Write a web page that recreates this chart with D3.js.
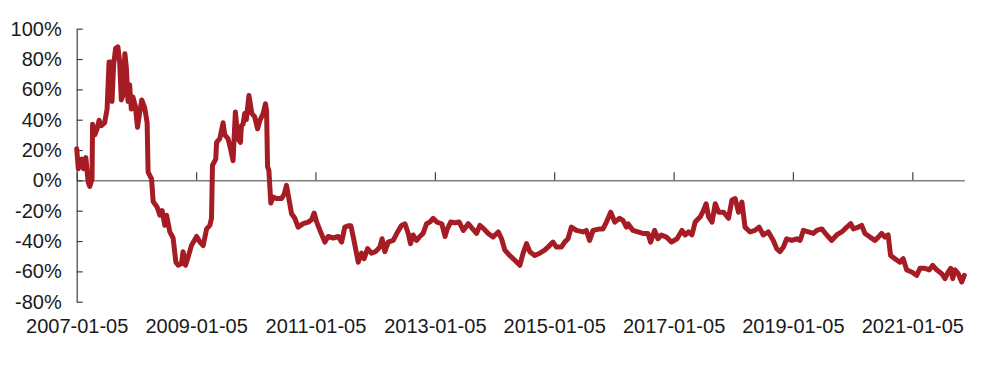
<!DOCTYPE html>
<html>
<head>
<meta charset="utf-8">
<script src="https://cdn.jsdelivr.net/npm/d3@7"></script>
<style>
  body { margin: 0; background: #fff; }
  svg text { font-family: "Liberation Sans", Arial, sans-serif; fill: #1a1a1a; }
</style>
</head>
<body>
<svg id="chart"></svg>
<script>
// weekly series (date, % value)
var dates = [
  "2007-01-05","2007-01-15","2007-02-05","2007-02-15","2007-03-02","2007-03-16","2007-03-26","2007-04-09","2007-04-12","2007-04-26",
  "2007-05-10","2007-05-22","2007-06-05","2007-06-25","2007-07-10","2007-07-22","2007-08-05","2007-08-09","2007-08-19","2007-08-31",
  "2007-09-14","2007-09-25","2007-10-05","2007-10-15","2007-10-27","2007-11-05","2007-11-15","2007-11-25","2007-12-05","2007-12-15",
  "2007-12-30","2008-01-12","2008-01-26","2008-02-07","2008-02-25","2008-03-11","2008-03-17","2008-04-07","2008-04-17","2008-05-11",
  "2008-05-28","2008-06-11","2008-06-27","2008-07-08","2008-07-28","2008-08-17","2008-09-03","2008-09-17","2008-10-07","2008-10-17",
  "2008-11-01","2008-11-17","2008-12-07","2009-01-08","2009-01-28","2009-02-17","2009-03-10","2009-03-30","2009-04-09","2009-04-15",
  "2009-05-05","2009-05-10","2009-05-30","2009-06-19","2009-06-29","2009-07-19","2009-08-03","2009-08-19","2009-09-02","2009-09-18",
  "2009-10-03","2009-10-09","2009-10-19","2009-10-29","2009-11-08","2009-11-24","2009-12-12","2009-12-29","2010-01-16","2010-01-30",
  "2010-02-19","2010-03-05","2010-03-12","2010-03-18","2010-03-26","2010-04-07","2010-04-21","2010-05-12","2010-06-12","2010-06-28",
  "2010-07-12","2010-07-28","2010-08-12","2010-09-01","2010-09-21","2010-10-22","2010-11-22","2010-12-12","2010-12-28","2011-01-13",
  "2011-02-02","2011-03-04","2011-03-24","2011-04-24","2011-05-25","2011-06-14","2011-07-04","2011-07-24","2011-08-10","2011-08-24",
  "2011-09-04","2011-09-24","2011-10-14","2011-10-30","2011-11-20","2011-12-14","2012-01-08","2012-02-03","2012-02-17","2012-03-05",
  "2012-03-25","2012-04-25","2012-05-22","2012-06-15","2012-07-06","2012-07-26","2012-08-09","2012-08-25","2012-09-15","2012-10-05",
  "2012-10-25","2012-11-15","2012-12-05","2012-12-25","2013-01-17","2013-02-16","2013-03-08","2013-03-22","2013-04-12","2013-05-08",
  "2013-06-03","2013-06-28","2013-07-28","2013-08-24","2013-09-17","2013-10-07","2013-11-01","2013-11-27","2013-12-27","2014-01-28",
  "2014-02-17","2014-03-09","2014-04-08","2014-05-09","2014-06-09","2014-06-29","2014-07-20","2014-08-09","2014-09-08","2014-10-09",
  "2014-11-08","2014-11-28","2014-12-29","2015-01-19","2015-02-18","2015-03-10","2015-03-31","2015-04-20","2015-05-21","2015-07-01",
  "2015-07-21","2015-08-10","2015-08-31","2015-10-11","2015-10-31","2015-11-21","2015-12-17","2016-01-11","2016-02-10","2016-03-01",
  "2016-03-22","2016-04-01","2016-05-01","2016-06-01","2016-07-01","2016-08-01","2016-08-17","2016-09-11","2016-10-01","2016-10-22",
  "2016-11-22","2016-12-22","2017-01-26","2017-02-25","2017-03-17","2017-04-06","2017-04-27","2017-05-17","2017-06-17","2017-07-07",
  "2017-07-23","2017-08-07","2017-08-28","2017-09-17","2017-10-07","2017-11-07","2017-12-07","2017-12-28","2018-01-17","2018-02-06",
  "2018-02-27","2018-03-18","2018-04-18","2018-05-18","2018-06-12","2018-07-08","2018-08-08","2018-09-07","2018-09-28","2018-10-18",
  "2018-11-08","2018-11-28","2018-12-29","2019-01-29","2019-02-18","2019-03-10","2019-04-10","2019-05-10","2019-05-31","2019-07-01",
  "2019-07-31","2019-08-31","2019-09-30","2019-10-31","2019-12-01","2019-12-25","2020-01-10","2020-02-10","2020-03-01","2020-03-21",
  "2020-04-21","2020-05-21","2020-06-11","2020-07-01","2020-07-21","2020-08-10","2020-08-25","2020-09-20","2020-10-21","2020-11-10",
  "2020-12-01","2021-01-01","2021-02-01","2021-02-21","2021-03-23","2021-04-19","2021-05-10","2021-06-03","2021-07-04","2021-07-24",
  "2021-08-13","2021-08-28","2021-09-09","2021-09-23","2021-10-13","2021-11-03","2021-11-19"
];
var values = [
  20.9, 7.7, 14, 7.7, 15, -1, -4, 1, 37, 30,
  34, 39.6, 36, 38, 47, 78, 78, 52, 76, 87,
  88, 78, 53, 56, 83.5, 74, 52, 63, 47, 55,
  49, 35, 45, 53, 48, 38, 5.5, 1, -14, -17.6,
  -23, -20, -29.7, -23, -34, -38, -54, -56, -55, -47,
  -56, -50.5, -43, -37, -40.7, -43, -32, -29.7, -25, 10,
  14, 25, 27.6, 38, 30, 27.5, 21, 13, 45, 27.5,
  25, 36, 37, 44, 40, 56, 44, 42, 34, 39.6,
  44, 50.5, 46, 9, 6.6, -15, -11, -12, -12, -9,
  -3.3, -13, -22, -25, -30.8, -28.5, -27.5, -26, -21.5, -27.5,
  -33, -40.7, -37, -38, -37, -40.7, -30.8, -30, -30, -37,
  -43, -54, -48, -51.6, -45, -48, -47, -44, -38.5, -47,
  -40.7, -39.6, -34, -29.7, -28.6, -35, -41.7, -36, -39.6, -37,
  -35, -28.6, -27.5, -25, -27.5, -28.6, -37, -32, -27.5, -28,
  -27.5, -33, -28.6, -32, -35, -29.7, -32, -35, -37.4, -34,
  -38.5, -46, -49.5, -52.7, -56, -48, -41.7, -47, -49.5, -48,
  -46, -44, -40.7, -44, -44, -40.7, -38.5, -30.8, -33, -34,
  -33, -39.6, -33, -32, -32, -27.5, -21, -27.5, -25, -26.4,
  -30.8, -28.6, -33, -34, -35, -35, -40.7, -33, -38.5, -36,
  -37.4, -40.7, -38.5, -33, -36, -34, -36, -27.5, -24, -19.8,
  -15.4, -24, -27.5, -15.4, -21, -21, -25, -13, -12, -21,
  -14.3, -30.8, -34, -33, -30.8, -36, -34, -39.6, -45, -47,
  -44, -38.5, -39.6, -38.5, -39.6, -33, -34, -35, -33, -32,
  -36, -39.6, -36, -34, -30.8, -28.6, -32, -30.8, -29.7, -35,
  -37.4, -39.6, -37.4, -35, -37.4, -36, -49.5, -51.6, -54, -51.6,
  -59, -60.4, -62.6, -58, -58, -59, -56, -59, -61.5, -64.8,
  -60.4, -58, -64.8, -59, -61.5, -67, -62.6
];
var xTickLabels = ["2007-01-05","2009-01-05","2011-01-05","2013-01-05","2015-01-05","2017-01-05","2019-01-05","2021-01-05"];
var yTicks = [100, 80, 60, 40, 20, 0, -20, -40, -60, -80];

var width = 990, height = 370;
var margin = { top: 28.7, right: 25.7, bottom: 68.3, left: 76.7 };

var parse = d3.timeParse("%Y-%m-%d");
var data = dates.map((d, i) => ({ date: parse(d), value: values[i] }));

var svg = d3.select("#chart")
    .attr("width", width)
    .attr("height", height);

var x = d3.scaleTime()
    .domain([parse(dates[0]), parse(dates[dates.length - 1])])
    .range([margin.left, width - margin.right]);

var y = d3.scaleLinear()
    .domain([-80, 100])
    .range([height - margin.bottom, margin.top]);

var tickDates = xTickLabels.map(parse);

// zero line with upward ticks
var zeroAxis = svg.append("g")
    .attr("transform", "translate(0," + y(0) + ")")
    .call(d3.axisBottom(x)
      .tickValues(tickDates)
      .tickSizeInner(-8)
      .tickSizeOuter(0)
      .tickFormat(""));
zeroAxis.select(".domain").attr("stroke", "#7f7f7f").attr("stroke-width", 1.5);
zeroAxis.selectAll(".tick line").attr("stroke", "#404040").attr("stroke-width", 1.2);

// date labels along the bottom
var labelAxis = svg.append("g")
    .attr("transform", "translate(0," + y(-80) + ")")
    .call(d3.axisBottom(x)
      .tickValues(tickDates)
      .tickSize(0)
      .tickPadding(17)
      .tickFormat(d3.timeFormat("%Y-%m-%d")));
labelAxis.select(".domain").remove();
labelAxis.selectAll("text").attr("font-size", "20px").attr("font-family", null);

// left axis, ticks pointing inward
var yAxis = svg.append("g")
    .attr("transform", "translate(" + margin.left + ",0)")
    .call(d3.axisLeft(y)
      .tickValues(yTicks)
      .tickSizeInner(-6)
      .tickSizeOuter(0)
      .tickPadding(15)
      .tickFormat(d => d + "%"));
yAxis.select(".domain").attr("stroke", "#404040").attr("stroke-width", 1.2);
yAxis.selectAll(".tick line").attr("stroke", "#404040").attr("stroke-width", 1.2);
yAxis.selectAll("text").attr("font-size", "20px").attr("font-family", null);

var line = d3.line()
    .x(d => x(d.date))
    .y(d => y(d.value));

svg.append("path")
    .datum(data)
    .attr("fill", "none")
    .attr("stroke", "#A51C24")
    .attr("stroke-width", 5)
    .attr("stroke-linejoin", "round")
    .attr("stroke-linecap", "round")
    .attr("d", line);
</script>
</body>
</html>
